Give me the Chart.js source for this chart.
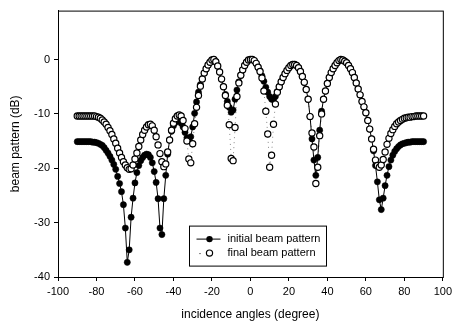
<!DOCTYPE html>
<html>
<head>
<meta charset="utf-8">
<script src="https://cdn.jsdelivr.net/npm/chart.js@4/dist/chart.umd.min.js"></script>
<style>
  html, body { margin: 0; padding: 0; background: #fff; }
  #wrap { width: 456px; height: 325px; }
</style>
</head>
<body>
<div id="wrap"><canvas id="beamChart" width="456" height="325"></canvas></div>
<script>
// incidence angles (degree), one sample per degree
const angles = [
  -90, -89, -88, -87, -86, -85, -84, -83, -82, -81,
  -80, -79, -78, -77, -76, -75, -74, -73, -72, -71,
  -70, -69, -68, -67, -66, -65, -64, -63, -62, -61,
  -60, -59, -58, -57, -56, -55, -54, -53, -52, -51,
  -50, -49, -48, -47, -46, -45, -44, -43, -42, -41,
  -40, -39, -38, -37, -36, -35, -34, -33, -32, -31,
  -30, -29, -28, -27, -26, -25, -24, -23, -22, -21,
  -20, -19, -18, -17, -16, -15, -14, -13, -12, -11,
  -10, -9, -8, -7, -6, -5, -4, -3, -2, -1,
  0, 1, 2, 3, 4, 5, 6, 7, 8, 9,
  10, 11, 12, 13, 14, 15, 16, 17, 18, 19,
  20, 21, 22, 23, 24, 25, 26, 27, 28, 29,
  30, 31, 32, 33, 34, 35, 36, 37, 38, 39,
  40, 41, 42, 43, 44, 45, 46, 47, 48, 49,
  50, 51, 52, 53, 54, 55, 56, 57, 58, 59,
  60, 61, 62, 63, 64, 65, 66, 67, 68, 69,
  70, 71, 72, 73, 74, 75, 76, 77, 78, 79,
  80, 81, 82, 83, 84, 85, 86, 87, 88, 89,
  90
];

// initial beam pattern (dB)
const initialPattern = [
  -15.1, -15.1, -15.1, -15.1, -15.1, -15.1, -15.1, -15.1, -15.2, -15.2,
  -15.3, -15.4, -15.6, -15.8, -16.2, -16.7, -17.2, -17.8, -18.5, -19.3,
  -20.2, -21.5, -22.8, -24.3, -26.7, -31.0, -37.3, -35.0, -29.0, -25.5,
  -22.7, -20.8, -19.5, -18.6, -18.0, -17.6, -17.4, -17.5, -18.0, -19.0,
  -20.6, -22.6, -25.6, -31.0, -32.2, -25.6, -21.3, -17.4, -14.8, -13.2,
  -12.2, -11.6, -11.3, -11.3, -11.7, -12.4, -13.4, -14.4, -14.8, -14.2,
  -12.4, -9.9, -7.8, -6.0, -4.6, -3.5, -2.5, -1.7, -1.0, -0.5,
  -0.1, 0, -0.4, -1.2, -2.3, -3.6, -5.0, -6.4, -7.7, -8.8,
  -9.7, -9.3, -7.3, -5.6, -4.1, -2.9, -1.9, -1.1, -0.5, -0.1,
  0, 0, -0.2, -0.7, -1.4, -2.1, -3.0, -4.0, -5.1, -6.0,
  -6.8, -7.3, -7.4, -6.8, -5.9, -5.0, -4.1, -3.3, -2.6, -2.0,
  -1.5, -1.1, -0.9, -0.9, -1.1, -1.5, -2.2, -3.1, -4.2, -5.5,
  -7.3, -10.5, -14.6, -18.5, -21.3, -18.0, -13.0, -9.5, -7.3, -5.8,
  -4.4, -3.3, -2.4, -1.7, -1.1, -0.6, -0.2, 0, -0.1, -0.3,
  -0.6, -1.1, -1.7, -2.4, -3.3, -4.3, -5.4, -6.5, -7.7, -8.7,
  -9.8, -11.2, -12.8, -14.6, -16.8, -19.5, -22.5, -25.8, -27.6, -25.5,
  -23.2, -21.3, -19.7, -18.5, -17.6, -16.9, -16.4, -16.0, -15.7, -15.5,
  -15.4, -15.3, -15.2, -15.2, -15.1, -15.1, -15.1, -15.1, -15.1, -15.1,
  -15.1
];

// final beam pattern (dB)
const finalPattern = [
  -10.4, -10.4, -10.4, -10.4, -10.4, -10.4, -10.4, -10.4, -10.4, -10.4,
  -10.5, -10.6, -10.8, -11.1, -11.5, -11.9, -12.5, -13.1, -13.8, -14.6,
  -15.4, -16.3, -17.2, -18.0, -18.8, -19.4, -19.9, -20.2, -20.1, -19.4,
  -18.3, -17.2, -16.0, -14.8, -13.8, -13.0, -12.4, -12.0, -11.9, -12.2,
  -13.0, -14.2, -15.7, -17.3, -18.8, -19.7, -19.2, -17.0, -14.8, -13.0,
  -11.7, -10.9, -10.4, -10.2, -10.4, -11.2, -12.7, -15.0, -18.3, -19.0,
  -15.5, -11.8, -8.8, -6.6, -4.9, -3.6, -2.5, -1.7, -1.0, -0.5,
  -0.1, 0, -0.4, -1.2, -2.3, -3.6, -5.0, -6.6, -8.4, -12.0,
  -18.2, -18.6, -12.5, -6.8, -4.3, -2.9, -1.9, -1.1, -0.5, -0.1,
  0, 0, -0.2, -0.7, -1.4, -2.2, -3.4, -5.8, -9.5, -13.7,
  -19.8, -17.6, -11.9, -8.2, -6.0, -5.0, -4.1, -3.3, -2.6, -2.0,
  -1.5, -1.1, -0.9, -0.9, -1.1, -1.5, -2.2, -3.1, -4.2, -5.5,
  -7.3, -10.5, -13.5, -16.1, -22.8, -19.8, -14.0, -10.0, -7.3, -5.8,
  -4.4, -3.3, -2.4, -1.7, -1.1, -0.6, -0.2, 0, -0.1, -0.3,
  -0.6, -1.1, -1.7, -2.4, -3.3, -4.3, -5.4, -6.5, -7.7, -8.7,
  -9.8, -11.2, -12.8, -14.6, -16.5, -18.5, -19.5, -19.8, -19.4, -18.4,
  -17.0, -15.6, -14.5, -13.6, -12.9, -12.3, -11.8, -11.5, -11.2, -11.0,
  -10.8, -10.7, -10.6, -10.6, -10.5, -10.5, -10.4, -10.4, -10.4, -10.4,
  -10.4
];

const xTicks = [-100, -80, -60, -40, -20, 0, 20, 40, 60, 80, 100];
const yTicks = [-40, -30, -20, -10, 0];
const seriesNames = ['initial beam pattern', 'final beam pattern'];

const FONT = '"Liberation Sans", Arial, sans-serif';

function toPoints(values) {
  return angles.map((a, i) => ({ x: a, y: values[i] }));
}

// frame round the plot area
const framePlugin = {
  id: 'frame',
  afterDraw(chart) {
    const { ctx, chartArea: a } = chart;
    ctx.save();
    ctx.strokeStyle = '#000';
    ctx.lineWidth = 1;
    ctx.strokeRect(a.left + 0.5, a.top + 0.5, a.right - a.left, a.bottom - a.top);
    ctx.restore();
  }
};

// boxed legend inside the plot, lower middle
const legendPlugin = {
  id: 'boxLegend',
  afterDraw(chart) {
    const { ctx, chartArea: a } = chart;
    const bx = a.left + 131.5, by = a.top + 215.5, bw = 137, bh = 40;
    ctx.save();
    ctx.fillStyle = '#fff';
    ctx.fillRect(bx, by, bw, bh);
    ctx.strokeStyle = '#000';
    ctx.lineWidth = 1;
    ctx.strokeRect(bx, by, bw, bh);

    const y1 = by + 13, y2 = by + 27;
    // initial: solid line + filled dot
    ctx.beginPath();
    ctx.moveTo(bx + 7, y1);
    ctx.lineTo(bx + 31, y1);
    ctx.stroke();
    ctx.beginPath();
    ctx.arc(bx + 20, y1, 3.2, 0, Math.PI * 2);
    ctx.fillStyle = '#000';
    ctx.fill();
    // final: dotted + open circle
    ctx.fillRect(bx + 10, y2, 1, 1);
    ctx.beginPath();
    ctx.arc(bx + 20, y2, 3.1, 0, Math.PI * 2);
    ctx.fillStyle = '#fff';
    ctx.fill();
    ctx.lineWidth = 1.2;
    ctx.stroke();

    ctx.fillStyle = '#000';
    ctx.font = '11px ' + FONT;
    ctx.textBaseline = 'middle';
    ctx.fillText(seriesNames[0], bx + 38, y1);
    ctx.fillText(seriesNames[1], bx + 38, y2);
    ctx.restore();
  }
};

const ctx = document.getElementById('beamChart').getContext('2d');
new Chart(ctx, {
  type: 'scatter',
  data: {
    datasets: [
      {
        label: seriesNames[0],
        data: toPoints(initialPattern),
        showLine: true,
        borderColor: '#000',
        borderWidth: 1,
        pointRadius: 3.1,
        pointBackgroundColor: '#000',
        pointBorderColor: '#000',
        pointBorderWidth: 0.5,
        order: 2
      },
      {
        label: seriesNames[1],
        data: toPoints(finalPattern),
        showLine: true,
        borderColor: 'rgba(0,0,0,0.6)',
        borderWidth: 0.8,
        borderDash: [1, 4],
        pointRadius: 3.1,
        pointBackgroundColor: '#fff',
        pointBorderColor: '#000',
        pointBorderWidth: 1.2,
        order: 1
      }
    ]
  },
  options: {
    responsive: false,
    animation: false,
    layout: { padding: { top: 8, right: 9, left: 0, bottom: 0 } },
    plugins: {
      legend: { display: false },
      tooltip: { enabled: false }
    },
    scales: {
      x: {
        type: 'linear',
        min: -100,
        max: 100,
        afterBuildTicks(scale) { scale.ticks = xTicks.map(v => ({ value: v })); },
        afterFit(scale) { scale.height = 48; },
        grid: { drawOnChartArea: false, drawTicks: true, tickLength: 4, color: '#000' },
        border: { display: true, color: '#000', width: 1 },
        ticks: { color: '#000', padding: 4, font: { family: FONT, size: 11 } },
        title: {
          display: true,
          text: 'incidence angles (degree)',
          color: '#000',
          padding: { top: 0, bottom: 3 },
          font: { family: FONT, size: 12 }
        }
      },
      y: {
        min: -40,
        max: 9,
        afterBuildTicks(scale) { scale.ticks = yTicks.map(v => ({ value: v })); },
        afterFit(scale) { scale.width = 58; },
        grid: { drawOnChartArea: false, drawTicks: true, tickLength: 4, color: '#000' },
        border: { display: true, color: '#000', width: 1 },
        ticks: { color: '#000', padding: 4, font: { family: FONT, size: 11 } },
        title: {
          display: true,
          text: 'beam pattern (dB)',
          color: '#000',
          padding: { top: 8, bottom: 0 },
          font: { family: FONT, size: 12 }
        }
      }
    }
  },
  plugins: [framePlugin, legendPlugin]
});
</script>
</body>
</html>
